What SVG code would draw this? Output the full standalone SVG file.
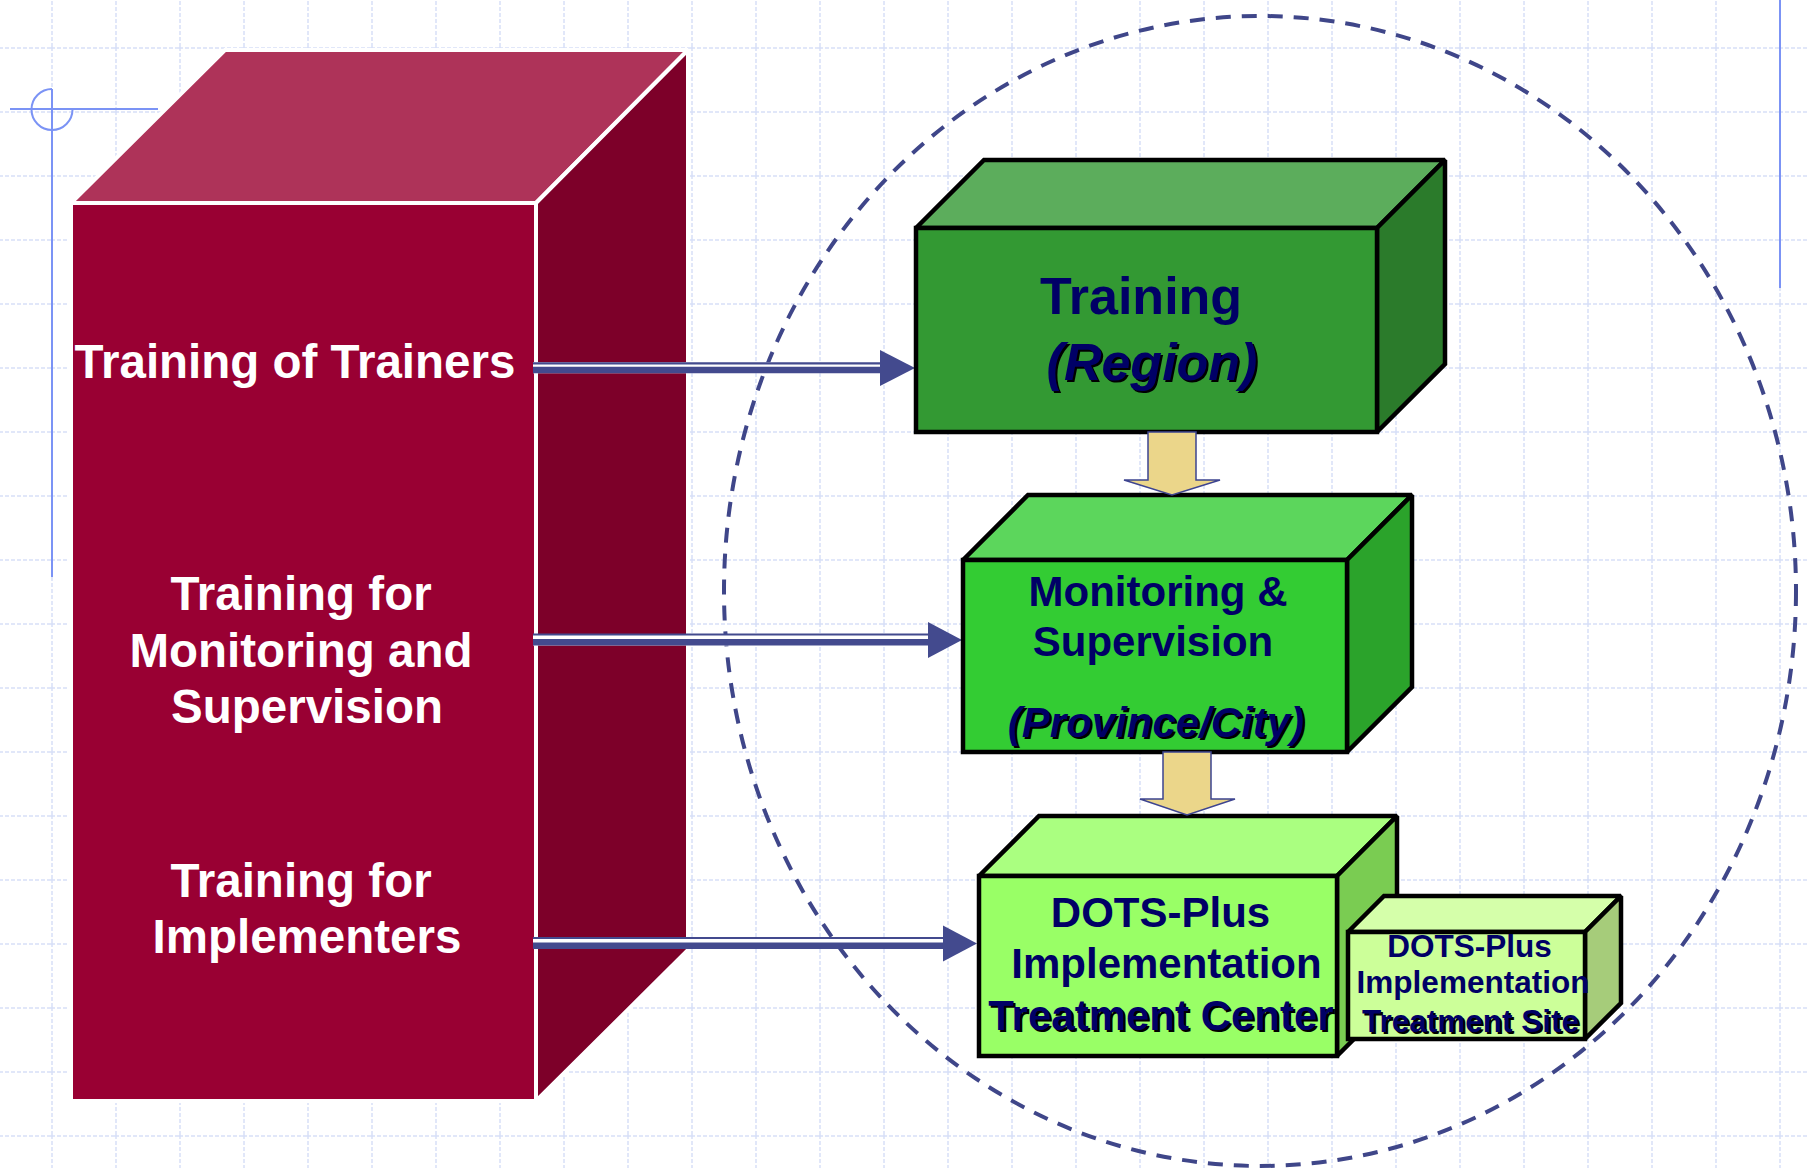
<svg xmlns="http://www.w3.org/2000/svg" width="1807" height="1168" viewBox="0 0 1807 1168">
<defs>
<pattern id="grid" x="51" y="47" width="64" height="64" patternUnits="userSpaceOnUse">
<path d="M1 0V64M0 1H64" stroke="#D7E0F8" stroke-width="1.5" stroke-dasharray="4 2" fill="none"/>
</pattern>
<style>
.deco{stroke:#7B93F5;stroke-width:2;fill:none}
.mar{stroke:#FFFFFF;stroke-width:4;stroke-linejoin:miter;stroke-miterlimit:2}
.gb{stroke:#000000;stroke-width:4.5;stroke-linejoin:miter;stroke-miterlimit:2}
.wt{font-family:"Liberation Sans",Arial,sans-serif;font-weight:bold;fill:#FFFFFF;text-anchor:middle}
.nt{font-family:"Liberation Sans",Arial,sans-serif;font-weight:bold;fill:#000066;text-anchor:middle}
.it{font-style:italic}
.sh{fill:#000000}
.nav{fill:#434A8E}
.yel{fill:#EBD68A;stroke:#3D4490;stroke-width:1.5;stroke-linejoin:miter;stroke-miterlimit:2}
</style>
</defs>
<rect x="0" y="0" width="1807" height="1168" fill="#FFFFFF"/>
<rect x="0" y="0" width="1807" height="1168" fill="url(#grid)"/>
<g id="decoration">
<line class="deco" x1="10" y1="109" x2="158" y2="109"/>
<line class="deco" x1="52" y1="89" x2="52" y2="577"/>
<path class="deco" d="M52 89 A20.5 20.5 0 1 0 72.5 109.5"/>
<line class="deco" x1="1780" y1="0" x2="1780" y2="288"/>
</g>
<ellipse id="scope" cx="1260" cy="591" rx="536" ry="575" fill="none" stroke="#3F4689" stroke-width="4" stroke-dasharray="15 11"/>
<g id="training-block">
<path class="mar" fill="#AE3359" d="M225 50 L688 50 L536 203 L71 203 Z"/>
<path class="mar" fill="#7D0029" d="M536 203 L688 50 L688 950 L536 1101 Z"/>
<rect class="mar" fill="#990033" x="71" y="203" width="465" height="898"/>
<text class="wt" font-size="47.5" x="295" y="378">Training of Trainers</text>
<text class="wt" font-size="47.5"><tspan x="301" y="610">Training for</tspan><tspan x="301" y="667">Monitoring and</tspan><tspan x="307" y="723">Supervision</tspan></text>
<text class="wt" font-size="47.5"><tspan x="301" y="897">Training for</tspan><tspan x="307" y="953">Implementers</tspan></text>
</g>
<g id="connectors">
<g id="arrow-tot">
<line x1="533" y1="367.8" x2="882" y2="367.8" stroke="#FFFFFF" stroke-width="11"/>
<line x1="533" y1="363.3" x2="882" y2="363.3" stroke="#434A8E" stroke-width="2.2"/>
<line x1="533" y1="370" x2="882" y2="370" stroke="#434A8E" stroke-width="6.6"/>
<polygon class="nav" points="880,350 915,368 880,386"/>
</g>
<g id="arrow-ms">
<line x1="533" y1="640" x2="930" y2="640" stroke="#FFFFFF" stroke-width="11"/>
<line x1="533" y1="634.5" x2="930" y2="634.5" stroke="#434A8E" stroke-width="2.2"/>
<line x1="533" y1="642.2" x2="930" y2="642.2" stroke="#434A8E" stroke-width="6.6"/>
<polygon class="nav" points="928,622 962,640 928,658"/>
</g>
<g id="arrow-impl">
<line x1="533" y1="943.5" x2="945" y2="943.5" stroke="#FFFFFF" stroke-width="11"/>
<line x1="533" y1="938" x2="945" y2="938" stroke="#434A8E" stroke-width="2.2"/>
<line x1="533" y1="945.7" x2="945" y2="945.7" stroke="#434A8E" stroke-width="6.6"/>
<polygon class="nav" points="943,925.5 977,943.5 943,961.5"/>
</g>
</g>
<g id="region-box">
<path class="gb" fill="#5CAD5C" d="M916 228 L984 160 L1445 160 L1377 228 Z"/>
<path class="gb" fill="#2B7B2B" d="M1377 228 L1445 160 L1445 364 L1377 432 Z"/>
<rect class="gb" fill="#339933" x="916" y="228" width="461" height="204"/>
<text class="nt" font-size="52" x="1141" y="314">Training</text>
<text class="nt sh it" font-size="52" x="1154" y="382">(Region)</text>
<text class="nt it" font-size="52" x="1152" y="380">(Region)</text>
</g>
<g id="province-box">
<path class="gb" fill="#5CD65C" d="M963 560 L1028 495 L1412 495 L1347 560 Z"/>
<path class="gb" fill="#2BA32B" d="M1347 560 L1412 495 L1412 687 L1347 752 Z"/>
<rect class="gb" fill="#33CC33" x="963" y="560" width="384" height="192"/>
<text class="nt" font-size="42" x="1158" y="605.5">Monitoring &amp;</text>
<text class="nt" font-size="42" x="1153" y="655.5">Supervision</text>
<text class="nt sh it" font-size="42" x="1158" y="739">(Province/City)</text>
<text class="nt it" font-size="42" x="1156" y="737">(Province/City)</text>
</g>
<g id="center-box">
<path class="gb" fill="#AAFF80" d="M979 876 L1039 816 L1397 816 L1337 876 Z"/>
<path class="gb" fill="#7ACC52" d="M1337 876 L1397 816 L1397 996 L1337 1056 Z"/>
<rect class="gb" fill="#99FF66" x="979" y="876" width="358" height="180"/>
<text class="nt" font-size="42" x="1160.5" y="926.5">DOTS-Plus</text>
<text class="nt" font-size="42" x="1166.5" y="978">Implementation</text>
<text class="nt sh" font-size="42" x="1163" y="1032">Treatment Center</text>
<text class="nt" font-size="42" x="1161" y="1030">Treatment Center</text>
</g>
<g id="site-box">
<path class="gb" fill="#D5FFAA" d="M1348 932 L1384 896 L1621 896 L1585 932 Z"/>
<path class="gb" fill="#A6CC7A" d="M1585 932 L1621 896 L1621 1003 L1585 1039 Z"/>
<rect class="gb" fill="#CCFF99" x="1348" y="932" width="237" height="107"/>
<text class="nt" font-size="31.5" x="1469.5" y="956.5">DOTS-Plus</text>
<text class="nt" font-size="31.5" x="1473" y="993">Implementation</text>
<text class="nt sh" font-size="31.5" x="1472.5" y="1033.5">Treatment Site</text>
<text class="nt" font-size="31.5" x="1470.5" y="1031.5">Treatment Site</text>
</g>
<g id="flow-arrows">
<path class="yel" d="M1148 432 L1148 480 L1124 480 L1172 495 L1220 480 L1196 480 L1196 432 Z"/>
<path class="yel" d="M1163 752 L1163 799 L1140 799 L1187 815 L1235 799 L1211 799 L1211 752 Z"/>
</g>
</svg>
